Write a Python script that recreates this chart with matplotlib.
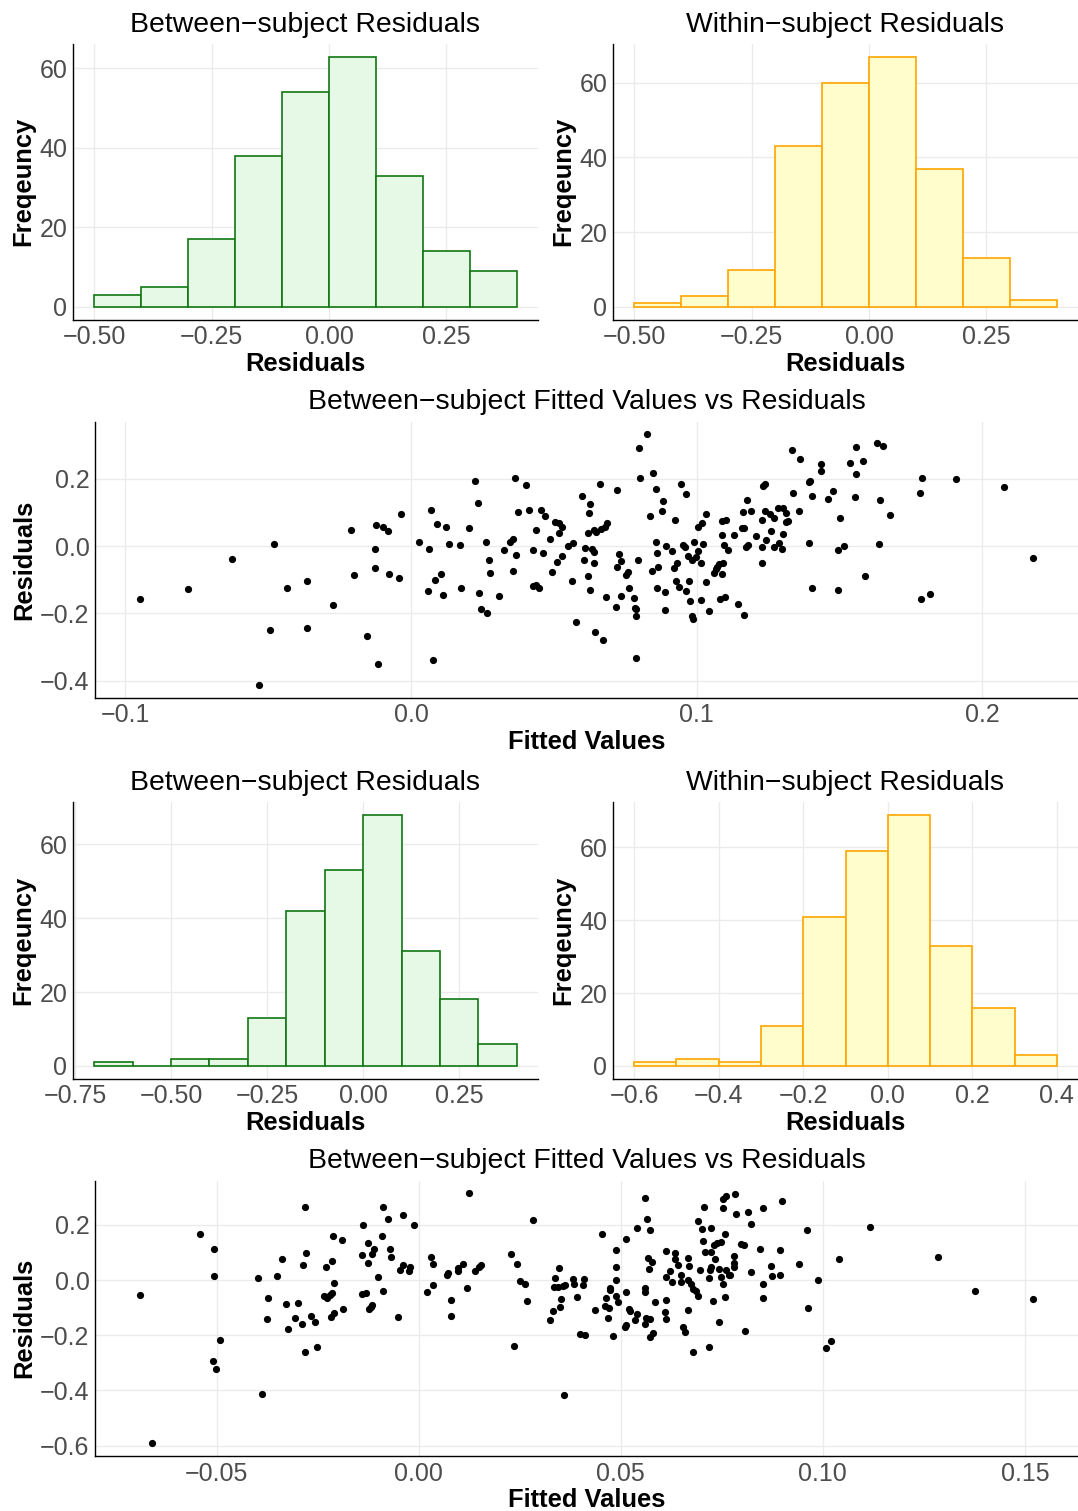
import matplotlib
matplotlib.use("Agg")
import matplotlib.pyplot as plt
import numpy as np

plt.rcParams['font.family'] = ['Liberation Sans', 'DejaVu Sans']

# ---- histogram data (bin width 0.1) ----
bins1 = [-0.5, -0.4, -0.3, -0.2, -0.1, 0.0, 0.1, 0.2, 0.3]
between1 = [3, 5, 17, 38, 54, 63, 33, 14, 9]
within1 = [1, 3, 10, 43, 60, 67, 37, 13, 2]

bins_b2 = [-0.7, -0.6, -0.5, -0.4, -0.3, -0.2, -0.1, 0.0, 0.1, 0.2, 0.3]
between2 = [1, 0, 2, 2, 13, 42, 53, 68, 31, 18, 6]
bins_w2 = [-0.6, -0.5, -0.4, -0.3, -0.2, -0.1, 0.0, 0.1, 0.2, 0.3]
within2 = [1, 2, 1, 11, 41, 59, 69, 33, 16, 3]

# ---- scatter 1: fitted vs residuals ----
fit1 = [-0.095, -0.078, -0.0626, -0.048, -0.0434, -0.0363, -0.0495, -0.0364, -0.0533, -0.0275,
        -0.0209, -0.0124, -0.0099, -0.0082, -0.0037, -0.0128, -0.0201, -0.0126, -0.0078, -0.0042,
        -0.0156, -0.0117, 0.0026,
        0.0070, 0.0089, 0.0123, 0.0063, 0.0132, 0.0171, 0.0084, 0.0105, 0.0060, 0.0111,
        0.0078, 0.0176, 0.0202, 0.0225, 0.0234, 0.0261, 0.0274, 0.0276, 0.0239, 0.0243,
        0.0267, 0.0307, 0.0325, 0.0345, 0.0356, 0.0356, 0.0366, 0.0365, 0.0374, 0.0401,
        0.0412, 0.0426, 0.0438, 0.0427, 0.0438, 0.0447, 0.0453, 0.0469, 0.0463, 0.0486,
        0.0494, 0.0502, 0.0517, 0.0529, 0.0517, 0.0509, 0.0527, 0.0550, 0.0566, 0.0563,
        0.0576, 0.0599, 0.0628, 0.0624, 0.0618, 0.0610, 0.0604, 0.0634, 0.0640, 0.0642,
        0.0620, 0.0628, 0.0639, 0.0648, 0.0666, 0.0680, 0.0686, 0.0660, 0.0645, 0.0673,
        0.0681, 0.0718, 0.0722, 0.0728, 0.0734, 0.0722, 0.0761, 0.0753, 0.0734, 0.0764,
        0.0780, 0.0785, 0.0786, 0.0789, 0.0789, 0.0794, 0.0798, 0.0826, 0.0800, 0.0846,
        0.0859, 0.0883, 0.0878, 0.0835, 0.0859, 0.0861, 0.0866, 0.0845, 0.0860, 0.0889,
        0.0888, 0.0893, 0.0915, 0.0924, 0.0945, 0.0961, 0.0952, 0.0959, 0.0968, 0.0985,
        0.0991, 0.1003, 0.0999, 0.1016, 0.1023, 0.1006, 0.1018, 0.1034, 0.0920, 0.0931,
        0.0928, 0.0938, 0.0961, 0.0973, 0.0978, 0.0983, 0.0987, 0.1016, 0.1032, 0.1042,
        0.1061, 0.1066, 0.1072, 0.1079, 0.1093, 0.1089, 0.1081, 0.1099, 0.1087, 0.1096,
        0.1110, 0.1088, 0.1101,
        0.1333, 0.1362, 0.1435, 0.1436, 0.1557, 0.1537, 0.1581, 0.1557, 0.1630, 0.1651,
        0.1231, 0.1238, 0.1176, 0.1162, 0.1191, 0.1238, 0.1258, 0.1271, 0.1285, 0.1303,
        0.1313, 0.1311, 0.1319, 0.1228, 0.1337, 0.1358, 0.1393, 0.1396, 0.1404, 0.1458,
        0.1477, 0.1503, 0.1554, 0.1643, 0.1677, 0.1788, 0.1781, 0.1909, 0.2076, 0.1158,
        0.1165, 0.1130, 0.1206, 0.1260, 0.1302, 0.1243, 0.1174, 0.1180, 0.1228, 0.1270,
        0.1289, 0.1298, 0.1394, 0.1496, 0.1516, 0.1637, 0.1229, 0.1590, 0.1404, 0.1496,
        0.1786, 0.1817, 0.1145, 0.1166, 0.2178]
res1 = [-0.157, -0.127, -0.038, 0.005, -0.124, -0.103, -0.249, -0.244, -0.412, -0.175,
        0.046, 0.062, 0.057, 0.044, 0.094, -0.008, -0.086, -0.064, -0.082, -0.094,
        -0.267, -0.351, 0.011,
        0.108, 0.066, 0.057, -0.008, 0.006, 0.004, -0.102, -0.084, -0.133, -0.144,
        -0.337, -0.124, 0.054, 0.194, 0.129, 0.011, -0.040, -0.079, -0.139, -0.187,
        -0.199, -0.148, -0.013, 0.011, 0.020, -0.074, -0.026, 0.201, 0.100, 0.181,
        0.108, -0.013, 0.048, -0.120, -0.117, -0.125, 0.108, 0.089, -0.022, 0.020,
        -0.076, 0.072, 0.067, 0.057, 0.038, -0.046, -0.030, 0.000, 0.009, -0.105,
        -0.225, 0.148, 0.126, 0.097, 0.038, -0.007, -0.040, -0.010, -0.017, -0.049,
        -0.088, -0.130, 0.047, 0.041, 0.050, 0.055, 0.069, 0.183, -0.255, -0.280,
        -0.152, -0.181, 0.166, -0.023, -0.043, -0.062, -0.076, -0.085, -0.148, -0.125,
        -0.154, -0.183, -0.207, -0.188, -0.333, -0.042, 0.290, 0.332, 0.201, 0.217,
        0.168, 0.134, 0.105, 0.088, 0.012, -0.021, -0.063, -0.075, -0.125, -0.136,
        -0.191, 0.001, -0.016, 0.077, 0.184, 0.154, 0.003, -0.002, -0.030, -0.041,
        0.012, -0.014, -0.034, -0.051, 0.007, 0.057, 0.069, 0.095, -0.064, -0.051,
        -0.104, -0.122, -0.132, -0.104, -0.162, -0.209, -0.215, -0.160, -0.108, -0.193,
        -0.080, -0.069, -0.062, -0.053, -0.049, -0.083, -0.157, -0.150, 0.033, 0.004,
        -0.012, 0.075, 0.077,
        0.284, 0.259, 0.243, 0.223, 0.294, 0.247, 0.253, 0.215, 0.304, 0.297,
        0.178, 0.184, 0.136, 0.102, 0.103, 0.104, 0.095, 0.083, 0.112, 0.114,
        0.099, 0.070, 0.075, 0.078, 0.156, 0.105, 0.189, 0.194, 0.148, 0.140,
        0.163, 0.082, 0.145, 0.135, 0.093, 0.202, 0.156, 0.199, 0.176, 0.054,
        0.052, 0.032, 0.031, 0.044, 0.037, 0.019, -0.004, 0.002, -0.004, -0.004,
        0.008, -0.010, 0.010, -0.013, 0.000, 0.006, -0.049, -0.090, -0.124, -0.131,
        -0.157, -0.142, -0.171, -0.205, -0.035]

# ---- scatter 2: fitted vs residuals ----
fit2 = [-0.0691, -0.0660, -0.0541, -0.0506, -0.0506, -0.0493, -0.0510, -0.0501, -0.0389, -0.0399,
        -0.0351, -0.0338, -0.0374, -0.0377, -0.0330, -0.0324, -0.0299, -0.0307, -0.0288, -0.0282,
        -0.0280, -0.0287, -0.0281, -0.0267, -0.0256, -0.0253, -0.0229, -0.0216, -0.0213, -0.0191,
        -0.0209, -0.0235, -0.0228, -0.0221, -0.0216, -0.0217, -0.0209, -0.0188, -0.0137, -0.0125,
        -0.0110, -0.0115, -0.0141, -0.0126, -0.0100, -0.0090, -0.0089, -0.0077, -0.0040, -0.0011,
        -0.0071, -0.0068, -0.0040, -0.0046, -0.0021, -0.0025, -0.0141, -0.0130, -0.0088, -0.0124,
        -0.0118, -0.0115, -0.0051,
        0.0029, 0.0035, 0.0020, 0.0035, 0.0072, 0.0069, 0.0097, 0.0097, 0.0109, 0.0080,
        0.0079, 0.0120, 0.0125, 0.0140, 0.0149, 0.0154, 0.0228, 0.0243, 0.0251, 0.0262,
        0.0268, 0.0236, 0.0282, 0.0336, 0.0347, 0.0335, 0.0345, 0.0357, 0.0363, 0.0353,
        0.0349, 0.0332, 0.0325, 0.0359, 0.0382, 0.0383, 0.0408, 0.0407, 0.0392, 0.0399,
        0.0411, 0.0437, 0.0453, 0.0463, 0.0460, 0.0472, 0.0474, 0.0470, 0.0468, 0.0480,
        0.0487, 0.0487, 0.0488, 0.0487, 0.0494, 0.0512, 0.0513, 0.0519, 0.0522, 0.0512,
        0.0511, 0.0534, 0.0539, 0.0540, 0.0560, 0.0564, 0.0571, 0.0567, 0.0576, 0.0570,
        0.0560, 0.0560, 0.0562, 0.0571, 0.0559, 0.0580, 0.0571, 0.0584, 0.0611, 0.0633,
        0.0634, 0.0641, 0.0621, 0.0613, 0.0626, 0.0613, 0.0610, 0.0613, 0.0650, 0.0648,
        0.0667, 0.0669, 0.0666, 0.0673, 0.0679, 0.0686, 0.0690, 0.0666, 0.0653, 0.0659,
        0.0679, 0.0696, 0.0706, 0.0691, 0.0700, 0.0724, 0.0704, 0.0709, 0.0724, 0.0731,
        0.0737, 0.0747, 0.0733, 0.0724, 0.0720, 0.0719, 0.0743, 0.0747, 0.0753, 0.0760,
        0.0757, 0.0727, 0.0718, 0.0743, 0.0753, 0.0752, 0.0760, 0.0757, 0.0768,
        0.0783, 0.0900, 0.0853, 0.0814, 0.0785, 0.0822, 0.0960, 0.1116, 0.0798, 0.0806,
        0.0844, 0.0894, 0.0781, 0.0781, 0.0781, 0.0872, 0.0942, 0.1039, 0.1285, 0.0822,
        0.0771, 0.0875, 0.0895, 0.0989, 0.0853, 0.0853, 0.0964, 0.1376, 0.1521, 0.0807,
        0.1021, 0.1009]
res2 = [-0.053, -0.592, 0.166, 0.112, 0.013, -0.217, -0.295, -0.322, -0.413, 0.007,
        0.014, 0.077, -0.065, -0.142, -0.086, -0.177, -0.083, -0.136, -0.160, 0.264,
        0.099, 0.055, -0.261, -0.130, -0.151, -0.242, 0.047, 0.070, 0.158, 0.146,
        -0.011, -0.058, -0.066, -0.054, -0.046, -0.135, -0.118, -0.106, 0.198, 0.134,
        0.113, 0.094, 0.092, 0.063, 0.010, 0.159, 0.264, 0.222, 0.236, 0.199,
        0.113, 0.084, 0.053, 0.036, 0.046, 0.031, -0.051, -0.046, -0.041, -0.104,
        -0.098, -0.092, -0.135,
        0.082, 0.058, -0.045, -0.018, 0.024, 0.018, 0.043, 0.034, 0.057, -0.074,
        -0.130, -0.028, 0.315, 0.034, 0.046, 0.055, 0.094, 0.058, -0.004, -0.013,
        -0.075, -0.240, 0.219, 0.006, 0.042, -0.027, -0.024, -0.022, -0.019, -0.067,
        -0.096, -0.113, -0.146, -0.418, 0.002, -0.014, 0.002, -0.017, -0.063, -0.194,
        -0.199, -0.108, 0.167, -0.064, -0.093, -0.036, -0.030, -0.100, -0.137, -0.201,
        0.108, 0.048, 0.000, -0.058, -0.078, 0.149, -0.043, -0.105, -0.113, -0.163,
        -0.170, -0.146, -0.123, 0.190, 0.298, 0.221, 0.181, 0.080, 0.064, 0.039,
        -0.028, -0.045, -0.139, -0.140, -0.159, -0.192, -0.208, -0.080, 0.106, 0.099,
        0.075, 0.053, 0.031, 0.011, -0.006, -0.074, -0.117, -0.140, 0.019, -0.008,
        0.080, 0.051, 0.000, -0.016, -0.033, -0.039, -0.057, -0.108, -0.169, -0.187,
        -0.260, 0.037, 0.265, 0.213, 0.183, 0.190, 0.141, 0.101, 0.101, 0.127,
        0.133, 0.139, 0.076, 0.048, 0.036, 0.007, 0.039, 0.012, -0.014, 0.036,
        -0.063, -0.076, -0.243, -0.152, 0.259, 0.295, 0.304, 0.165, 0.018,
        0.310, 0.286, 0.261, 0.246, 0.239, 0.204, 0.181, 0.193, 0.129, 0.127,
        0.114, 0.108, 0.087, 0.063, 0.046, 0.052, 0.057, 0.077, 0.082, 0.030,
        0.018, 0.014, 0.018, 0.001, -0.016, -0.064, -0.102, -0.041, -0.070, -0.183,
        -0.221, -0.247]

# ---- tick labels ----
hist_yticks = [0, 20, 40, 60]
hist1_xticks = [-0.50, -0.25, 0.00, 0.25]
hist_b2_xticks = [-0.75, -0.50, -0.25, 0.00, 0.25]
hist_w2_xticks = [-0.6, -0.4, -0.2, 0.0, 0.2, 0.4]
sc1_xticks = [-0.1, 0.0, 0.1, 0.2]
sc1_yticks = [-0.4, -0.2, 0.0, 0.2]
sc2_xticks = [-0.05, 0.00, 0.05, 0.10, 0.15]
sc2_yticks = [-0.6, -0.4, -0.2, 0.0, 0.2]

W, H = 1078, 1511
fig = plt.figure(figsize=(W / 100, H / 100), dpi=100)


def add_ax(left, top, right, bottom):
    return fig.add_axes([left / W, 1 - bottom / H, (right - left) / W, (bottom - top) / H])


def style(ax, title, xlabel, ylabel, xticks, yticks, xfmt, yfmt):
    ax.set_title(title, fontsize=20.4, pad=9)
    ax.set_xlabel(xlabel, fontsize=18.4, fontweight='bold', labelpad=2)
    ax.set_ylabel(ylabel, fontsize=18.4, fontweight='bold', labelpad=3)
    ax.set_xticks(xticks)
    ax.set_yticks(yticks)
    ax.set_xticklabels([xfmt.format(v).replace('-', '\u2212') for v in xticks])
    ax.set_yticklabels([yfmt.format(v).replace('-', '\u2212') for v in yticks])
    ax.tick_params(length=0, labelsize=18, labelcolor='#4D4D4D', pad=4)
    for s in ['top', 'right']:
        ax.spines[s].set_visible(False)
    for s in ['left', 'bottom']:
        ax.spines[s].set_color('black')
        ax.spines[s].set_linewidth(1.0)
    ax.grid(True, color='#EBEBEB', linewidth=1.0)
    ax.set_axisbelow(True)


def hist(ax, starts, counts, fill, edge):
    ax.use_sticky_edges = False
    ax.bar(starts, counts, width=0.1, align='edge', color=fill, edgecolor=edge, linewidth=1.2)
    ax.margins(0.05)


ax = add_ax(73, 44, 538, 319.5)
hist(ax, bins1, between1, '#E6F9E6', '#117811')
style(ax, 'Between\u2212subject Residuals', 'Residuals', 'Freqeuncy', hist1_xticks, hist_yticks, '{:.2f}', '{:d}')

ax = add_ax(613, 44, 1078, 319.5)
hist(ax, bins1, within1, '#FFFDCC', '#FFA500')
style(ax, 'Within\u2212subject Residuals', 'Residuals', 'Freqeuncy', hist1_xticks, hist_yticks, '{:.2f}', '{:d}')

ax = add_ax(95, 421.5, 1078, 697.5)
ax.scatter(fit1, res1, s=27, color='black', linewidths=0)
ax.margins(0.05)
style(ax, 'Between\u2212subject Fitted Values vs Residuals', 'Fitted Values', 'Residuals', sc1_xticks, sc1_yticks, '{:.1f}', '{:.1f}')

ax = add_ax(73, 802, 538, 1078.5)
hist(ax, bins_b2, between2, '#E6F9E6', '#117811')
style(ax, 'Between\u2212subject Residuals', 'Residuals', 'Freqeuncy', hist_b2_xticks, hist_yticks, '{:.2f}', '{:d}')

ax = add_ax(613, 802, 1078, 1078.5)
hist(ax, bins_w2, within2, '#FFFDCC', '#FFA500')
style(ax, 'Within\u2212subject Residuals', 'Residuals', 'Freqeuncy', hist_w2_xticks, hist_yticks, '{:.1f}', '{:d}')

ax = add_ax(95, 1180.5, 1078, 1456)
ax.scatter(fit2, res2, s=27, color='black', linewidths=0)
ax.margins(0.05)
style(ax, 'Between\u2212subject Fitted Values vs Residuals', 'Fitted Values', 'Residuals', sc2_xticks, sc2_yticks, '{:.2f}', '{:.1f}')

fig.savefig('out.png', dpi=100, facecolor='white')
